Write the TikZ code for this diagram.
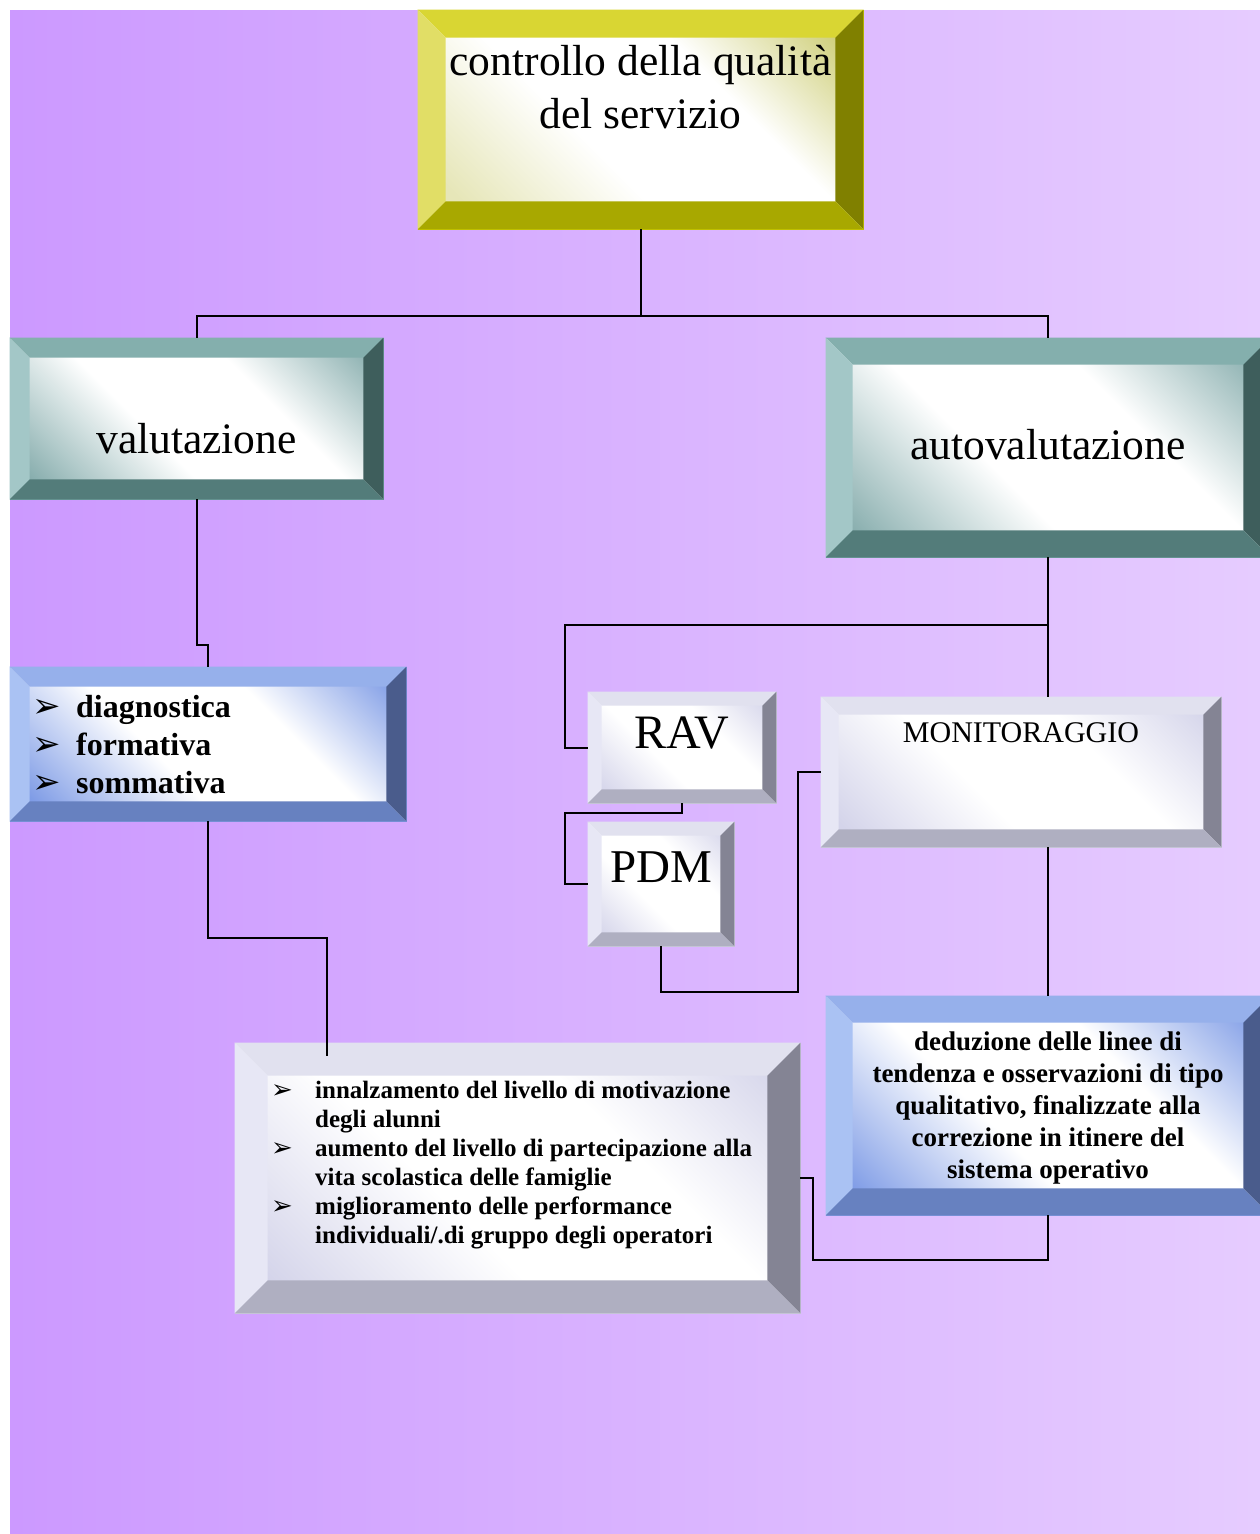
\documentclass[tikz,border=0pt]{standalone}
\usepackage{fontspec}
\setmainfont{Liberation Serif}
\newfontfamily\arrfont{DejaVu Sans}
\usetikzlibrary{calc}
\definecolor{bgleft}{HTML}{CC99FF}
\definecolor{bgright}{HTML}{E6CCFF}
\definecolor{ylwtop}{HTML}{D9D633}
\definecolor{ylwleft}{HTML}{E1DE66}
\definecolor{ylwright}{HTML}{808000}
\definecolor{ylwbot}{HTML}{A8A800}
\definecolor{ylwedge}{HTML}{CCCC00}
\definecolor{ylwglow}{HTML}{CFCF7A}
\definecolor{ylwpale}{HTML}{E6E6B8}
\definecolor{tealtop}{HTML}{84AFAD}
\definecolor{tealleft}{HTML}{A3C7C7}
\definecolor{tealright}{HTML}{3E5E5C}
\definecolor{tealbot}{HTML}{537C7A}
\definecolor{tealedge}{HTML}{6E9E9C}
\definecolor{tealglow}{HTML}{88AEAE}
\definecolor{blutop}{HTML}{96B0EB}
\definecolor{bluleft}{HTML}{AAC2F3}
\definecolor{bluright}{HTML}{4A5C8C}
\definecolor{blubot}{HTML}{6781C0}
\definecolor{bluedge}{HTML}{7D98E0}
\definecolor{bluglow}{HTML}{7F9CE6}
\definecolor{grytop}{HTML}{E1E1EF}
\definecolor{gryleft}{HTML}{E7E7F5}
\definecolor{gryright}{HTML}{848494}
\definecolor{grybot}{HTML}{AFAFC1}
\definecolor{gryedge}{HTML}{D0D0E0}
\definecolor{gryglow}{HTML}{D4D4EA}
\pgfdeclarehorizontalshading{ylwglint}{100bp}{color(0bp)=(ylwpale); color(22bp)=(ylwpale);
  color(42bp)=(white); color(62bp)=(white); color(80bp)=(ylwglow); color(100bp)=(ylwglow)}
\pgfdeclarehorizontalshading{tealglint}{100bp}{color(0bp)=(tealglow); color(20bp)=(tealglow);
  color(42bp)=(white); color(62bp)=(white); color(82bp)=(tealglow); color(100bp)=(tealglow)}
\pgfdeclarehorizontalshading{bluglint}{100bp}{color(0bp)=(bluglow); color(20bp)=(bluglow);
  color(42bp)=(white); color(62bp)=(white); color(82bp)=(bluglow); color(100bp)=(bluglow)}
\pgfdeclarehorizontalshading{gryglint}{100bp}{color(0bp)=(gryglow); color(20bp)=(gryglow);
  color(42bp)=(white); color(62bp)=(white); color(82bp)=(gryglow); color(100bp)=(gryglow)}
\tikzset{
  panel/.style={rectangle,inner sep=0pt,line width=0.8pt,shade,shading angle=45},
  ylwbox/.style={panel,draw=ylwedge,shading=ylwglint},
  tealbox/.style={panel,draw=tealedge,shading=tealglint},
  blubox/.style={panel,draw=bluedge,shading=bluglint},
  grybox/.style={panel,draw=gryedge,shading=gryglint},
  txt/.style={inner sep=0pt,text=black},
  conn/.style={line width=2pt,black},
}
% four bevel faces round a node: name, depth, top, left, right, bottom
\newcommand{\bevel}[6]{%
  \fill[#3] (#1.north west) -- (#1.north east) -- ($(#1.north east)+(-#2,#2)$) -- ($(#1.north west)+(#2,#2)$) -- cycle;
  \fill[#4] (#1.north west) -- (#1.south west) -- ($(#1.south west)+(#2,-#2)$) -- ($(#1.north west)+(#2,#2)$) -- cycle;
  \fill[#5] (#1.north east) -- (#1.south east) -- ($(#1.south east)+(-#2,-#2)$) -- ($(#1.north east)+(-#2,#2)$) -- cycle;
  \fill[#6] (#1.south west) -- (#1.south east) -- ($(#1.south east)+(-#2,-#2)$) -- ($(#1.south west)+(#2,-#2)$) -- cycle;
}
\newcommand{\pnt}[1]{\makebox[44pt][l]{\arrfont\fontsize{#1}{#1}\selectfont ➢}}
\newcommand{\cnt}{\hspace*{44pt}}

\begin{document}
\begin{tikzpicture}[x=1pt,y=-1pt]
  \clip (0,0) rectangle (1260,1534);
  \fill[white] (0,0) rectangle (1260,1534);
  \shade[left color=bgleft,right color=bgright] (10,10) rectangle (1260,1534);

  % boxes
  \node[ylwbox,minimum width=445pt,minimum height=219pt] (ctrl) at (640.5,119.5) {};
  \bevel{ctrl}{28}{ylwtop}{ylwleft}{ylwright}{ylwbot}
  \node[tealbox,minimum width=373pt,minimum height=161pt] (val) at (196.5,418.5) {};
  \bevel{val}{20}{tealtop}{tealleft}{tealright}{tealbot}
  \node[tealbox,minimum width=444pt,minimum height=219pt] (auto) at (1048,447.5) {};
  \bevel{auto}{27}{tealtop}{tealleft}{tealright}{tealbot}
  \node[blubox,minimum width=396pt,minimum height=154pt] (diag) at (208,744) {};
  \bevel{diag}{20}{blutop}{bluleft}{bluright}{blubot}
  \node[grybox,minimum width=188pt,minimum height=111pt] (rav) at (682,747.5) {};
  \bevel{rav}{14}{grytop}{gryleft}{gryright}{grybot}
  \node[grybox,minimum width=146pt,minimum height=124pt] (pdm) at (661,884) {};
  \bevel{pdm}{14}{grytop}{gryleft}{gryright}{grybot}
  \node[grybox,minimum width=400pt,minimum height=150pt] (mon) at (1021,772) {};
  \bevel{mon}{18}{grytop}{gryleft}{gryright}{grybot}
  \node[blubox,minimum width=444pt,minimum height=219pt] (ded) at (1048,1105.5) {};
  \bevel{ded}{27}{blutop}{bluleft}{bluright}{blubot}
  \node[grybox,minimum width=565pt,minimum height=270pt] (lst) at (517.5,1178) {};
  \bevel{lst}{33}{grytop}{gryleft}{gryright}{grybot}

  % texts (base = baseline of the last line)
  \node[txt,anchor=base,align=center,font=\fontsize{43.5}{53}\selectfont] (ctrltxt) at (640.5,128)
       {controllo della qualità\\del servizio};
  \node[txt,anchor=base,font=\fontsize{43.5}{53}\selectfont] (valtxt) at (196.5,453) {valutazione};
  \node[txt,anchor=base,font=\fontsize{43.5}{53}\selectfont] (autotxt) at (1048,459) {autovalutazione};
  \node[txt,anchor=base west,align=left,font=\fontsize{32}{38}\selectfont\bfseries] (diagtxt) at (32,793)
       {\pnt{34}diagnostica\\\pnt{34}formativa\\\pnt{34}sommativa};
  \node[txt,anchor=base,font=\fontsize{48}{50}\selectfont] (ravtxt) at (682,748) {RAV};
  \node[txt,anchor=base,font=\fontsize{47}{50}\selectfont] (pdmtxt) at (661,882) {PDM};
  \node[txt,anchor=base,font=\fontsize{30}{32}\selectfont] (montxt) at (1021,742) {MONITORAGGIO};
  \node[txt,anchor=base,align=center,font=\fontsize{27}{32}\selectfont\bfseries] (dedtxt) at (1048,1178)
       {deduzione delle linee di\\tendenza e osservazioni di tipo\\qualitativo, finalizzate alla\\correzione in itinere del\\sistema operativo};
  \node[txt,anchor=base west,align=left,font=\fontsize{25}{29}\selectfont\bfseries] (lsttxt) at (271,1243)
       {\pnt{26}innalzamento del livello di motivazione\\\cnt degli alunni\\
        \pnt{26}aumento del livello di partecipazione alla\\\cnt vita scolastica delle famiglie\\
        \pnt{26}miglioramento delle performance\\\cnt individuali/.di gruppo degli operatori};

  % connectors
  \coordinate (bus) at (640.5,316);
  \draw[conn] (ctrl.south) -- (bus) -| (val.north);
  \draw[conn] (bus) -| (auto.north);
  \draw[conn] (val.south) -- ++(0,146) -| (diag.north);
  \draw[conn] (diag.south) -- ++(0,117) -| ($(lst.north west)+(92,13)$);
  \coordinate (ravbus) at (565,625);
  \draw[conn] (auto.south) |- (ravbus) |- (rav.west);
  \draw[conn] (auto.south) -- (auto.south |- mon.north);
  \coordinate (pdmbus) at (565,813);
  \draw[conn] (rav.south) |- (pdmbus) |- (pdm.west);
  \coordinate (monbus) at (798,992);
  \draw[conn] (pdm.south) |- (monbus) |- (mon.west);
  \draw[conn] (mon.south -| ded.north) -- (ded.north);
  \coordinate (lstbus) at (813,1260);
  \draw[conn] (ded.south) |- (lstbus) |- (lst.east);
\end{tikzpicture}
\end{document}
